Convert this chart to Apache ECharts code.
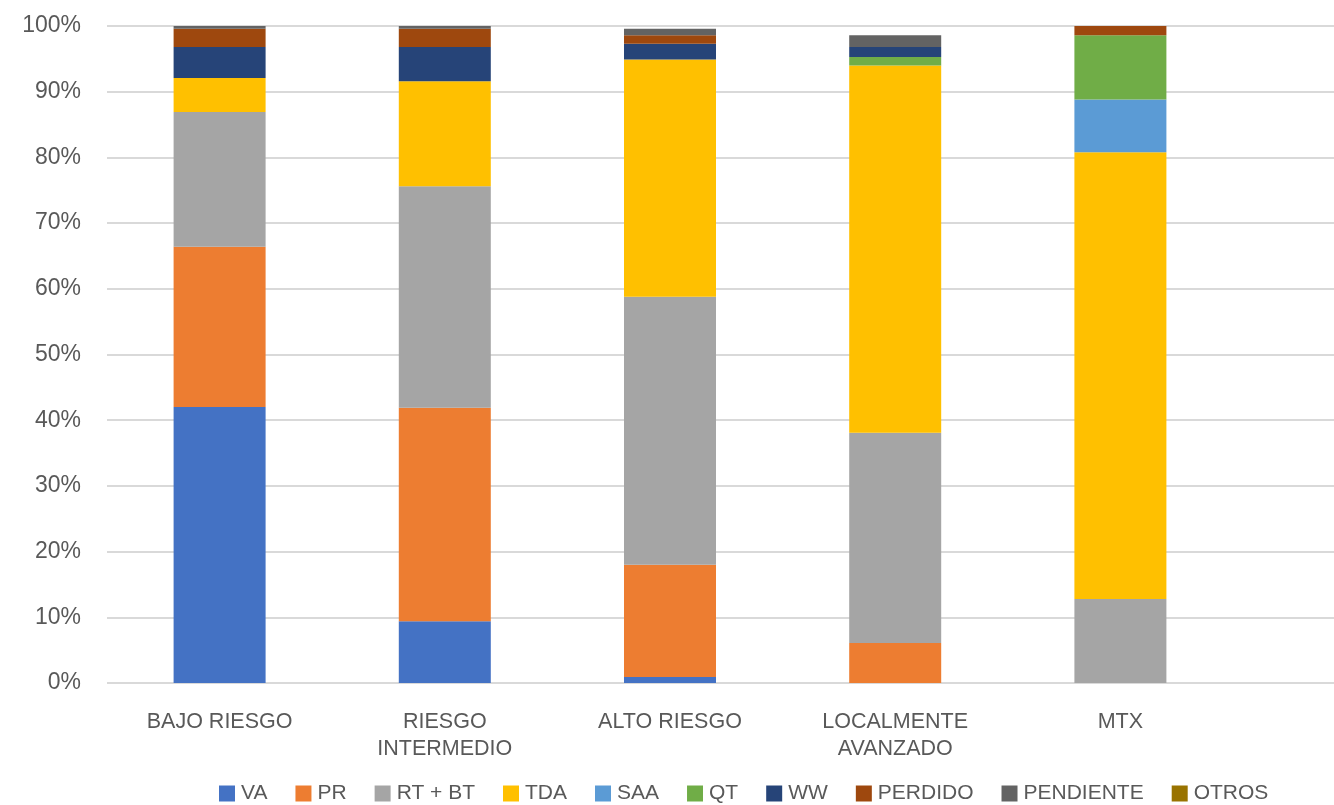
<!DOCTYPE html>
<html>
<head>
<meta charset="utf-8">
<script src="https://cdn.jsdelivr.net/npm/echarts@6/dist/echarts.min.js"></script>
<style>
html,body{margin:0;padding:0;background:#fff;}
#chart{width:1334px;height:805px;}
</style>
</head>
<body>
<div id="chart"></div>
<script>
const categories = ['BAJO RIESGO', 'RIESGO\nINTERMEDIO', 'ALTO RIESGO', 'LOCALMENTE\nAVANZADO', 'MTX'];
const yTicks = [0, 10, 20, 30, 40, 50, 60, 70, 80, 90, 100];

const VA        = [42.0, 9.4, 0.9, 0, 0];
const PR        = [24.4, 32.5, 17.1, 6.1, 0];
const RT_BT     = [20.5, 33.7, 40.8, 32.0, 12.8];
const TDA       = [5.2, 16.0, 36.1, 55.9, 68.0];
const SAA       = [0, 0, 0, 0, 8.0];
const QT        = [0, 0, 0, 1.3, 9.8];
const WW        = [4.7, 5.2, 2.4, 1.5, 0];
const PERDIDO   = [2.8, 2.8, 1.3, 0, 1.4];
const PENDIENTE = [0.4, 0.4, 1.0, 1.8, 0];
const OTROS     = [0, 0, 0, 0, 0];

const seriesDefs = [
  ['VA', VA, '#4472C4'],
  ['PR', PR, '#ED7D31'],
  ['RT + BT', RT_BT, '#A5A5A5'],
  ['TDA', TDA, '#FFC000'],
  ['SAA', SAA, '#5B9BD5'],
  ['QT', QT, '#70AD47'],
  ['WW', WW, '#264478'],
  ['PERDIDO', PERDIDO, '#9E480E'],
  ['PENDIENTE', PENDIENTE, '#636363'],
  ['OTROS', OTROS, '#997300']
];

const font = 'Liberation Sans';
const txt = '#595959';

const chart = echarts.init(document.getElementById('chart'));
chart.setOption({
  animation: false,
  backgroundColor: '#fff',
  grid: [
    { left: 107, right: 101, top: 26, bottom: 122 },
    { left: 107, right: 0, top: 26, bottom: 122 }
  ],
  legend: {
    bottom: -4,
    left: 214,
    itemWidth: 16,
    itemHeight: 16,
    itemGap: 28,
    icon: 'rect',
    textStyle: { fontFamily: font, fontSize: 21, color: txt, padding: [0, 0, 0, 1] },
    data: seriesDefs.map(d => d[0])
  },
  xAxis: [
    {
      type: 'category',
      gridIndex: 0,
      data: categories,
      axisLine: { show: false },
      axisTick: { show: false },
      axisLabel: { fontFamily: font, fontSize: 21.5, color: txt, margin: 26, lineHeight: 27, interval: 0 }
    },
    {
      type: 'category',
      gridIndex: 1,
      data: [''],
      show: false
    }
  ],
  yAxis: [
    {
      type: 'value',
      gridIndex: 0,
      min: 0, max: 100, interval: 10,
      axisLine: { show: false },
      axisTick: { show: false },
      splitLine: { show: false },
      axisLabel: { fontFamily: font, fontSize: 23, color: txt, margin: 26, formatter: v => yTicks.includes(v) ? v + '%' : '' }
    },
    {
      type: 'value',
      gridIndex: 1,
      min: 0, max: 100, interval: 10,
      axisLine: { show: false },
      axisTick: { show: false },
      axisLabel: { show: false },
      splitLine: { show: true, lineStyle: { color: '#D9D9D9', width: 2 } }
    }
  ],
  series: seriesDefs.map(d => ({
    name: d[0],
    type: 'bar',
    stack: 'total',
    xAxisIndex: 0,
    yAxisIndex: 0,
    barWidth: 92,
    data: d[1],
    itemStyle: { color: d[2] }
  }))
});
</script>
</body>
</html>
